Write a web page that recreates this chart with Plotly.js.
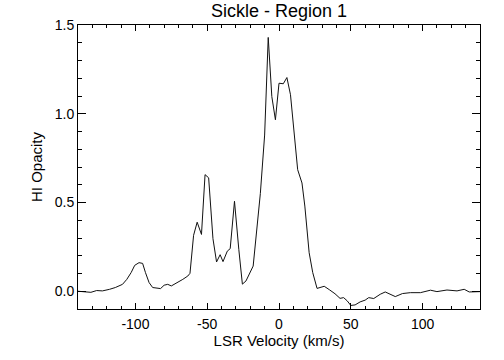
<!DOCTYPE html>
<html>
<head>
<meta charset="utf-8">
<script src="https://cdn.plot.ly/plotly-3.0.1.min.js"></script>
<style>
  html, body { margin: 0; padding: 0; background: #fff; }
  #graph { width: 504px; height: 360px; }
</style>
</head>
<body>
<div id="graph"></div>
<script>
// LSR velocity channels (km/s)
var velocity = [
  -140, -135, -131, -127, -123, -118, -114, -109, -106, -103,
  -100.5, -97.5, -95, -93, -90.5, -88, -84.5, -82.5, -80, -77.5,
  -75, -70.5, -67, -63.5, -62, -59.5, -57, -54, -51.5, -49,
  -46, -43.5, -41, -39, -36, -34, -31, -28, -25.5, -23,
  -18, -13, -10, -7.5, -5, -2.5, 0, 3, 5.5, 8,
  10.5, 13, 16, 18, 21, 23.5, 26.5, 29, 31.5, 35,
  39, 42.5, 45, 47.5, 50, 53, 56.5, 60, 62.5, 66,
  70.5, 74, 77.5, 81, 86, 91.5, 98.5, 105.5, 110, 117,
  124, 129, 132.5, 140
];

// HI opacity at each channel
var opacity = [
  0, -0.002, -0.006, 0.004, 0.002, 0.011, 0.021, 0.039, 0.067, 0.105,
  0.146, 0.161, 0.157, 0.105, 0.049, 0.021, 0.015, 0.015, 0.034, 0.039,
  0.03, 0.049, 0.067, 0.086, 0.101, 0.315, 0.389, 0.32, 0.657, 0.639,
  0.296, 0.165, 0.206, 0.167, 0.226, 0.24, 0.507, 0.236, 0.04, 0.058,
  0.142, 0.55, 0.88, 1.43, 1.097, 0.966, 1.172, 1.169, 1.204, 1.107,
  0.891, 0.685, 0.61, 0.48, 0.217, 0.105, 0.016, 0.022, 0.028, 0.009,
  -0.014, -0.04, -0.036, -0.054, -0.08, -0.077, -0.06, -0.05, -0.036, -0.041,
  -0.017, -0.004, -0.017, -0.03, -0.013, -0.008, -0.008, 0.006, -0.002, 0.007,
  0.002, 0.011, -0.004, -0.002
];

var xTicks = [-100, -50, 0, 50, 100];
var yTicks = [0, 0.5, 1.0, 1.5];

var font = 'Liberation Sans, Arial, Helvetica, sans-serif';

var trace = {
  x: velocity,
  y: opacity,
  mode: 'lines',
  type: 'scatter',
  line: { color: '#111', width: 1 },
  hoverinfo: 'skip'
};

// IDL-style axes: boxed, ticks inward on all sides
var axisCommon = {
  showgrid: false,
  zeroline: false,
  showline: true,
  linecolor: '#000',
  linewidth: 1,
  mirror: 'ticks',
  ticks: 'inside',
  tickcolor: '#000',
  tickfont: { family: font, size: 14, color: '#000' }
};

var layout = {
  width: 504,
  height: 360,
  margin: { l: 78, r: 24, t: 25, b: 51 },
  paper_bgcolor: '#fff',
  plot_bgcolor: '#fff',
  showlegend: false,
  title: {
    text: 'Sickle - Region 1',
    font: { family: font, size: 18, color: '#000' },
    x: 0.5,
    xref: 'paper',
    y: 0.97,
    yref: 'container',
    yanchor: 'middle'
  },
  xaxis: Object.assign({}, axisCommon, {
    range: [-140, 140],
    ticklen: 6,
    ticklabelstandoff: 2,
    tickmode: 'array',
    tickvals: xTicks,
    ticktext: xTicks.map(String),
    minor: { dtick: 10, tick0: 0, ticks: 'inside', ticklen: 3, tickcolor: '#000' },
    title: { text: 'LSR Velocity (km/s)', font: { family: font, size: 15, color: '#000' }, standoff: 4 }
  }),
  yaxis: Object.assign({}, axisCommon, {
    range: [-0.1, 1.5],
    ticklen: 8,
    tickmode: 'array',
    tickvals: yTicks,
    ticktext: yTicks.map(function (v) { return v.toFixed(1); }),
    minor: { dtick: 0.1, tick0: 0, ticks: 'inside', ticklen: 4, tickcolor: '#000' },
    title: { text: 'HI Opacity', font: { family: font, size: 15, color: '#000' }, standoff: 8 }
  })
};

Plotly.newPlot('graph', [trace], layout, { staticPlot: true, displayModeBar: false });
</script>
</body>
</html>
